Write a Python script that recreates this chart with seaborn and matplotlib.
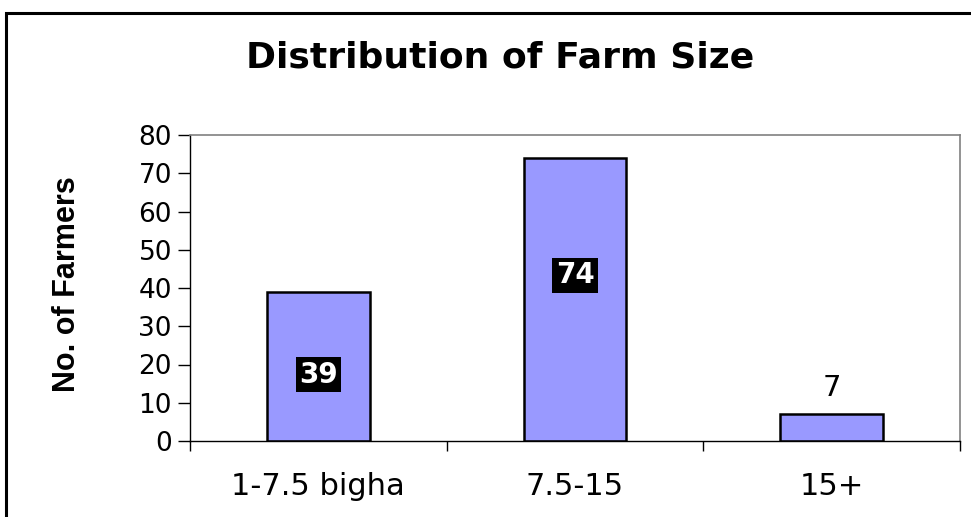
import matplotlib
matplotlib.use("Agg")
import matplotlib.pyplot as plt
import seaborn as sns
import pandas as pd
from matplotlib.patches import Rectangle
from matplotlib.ticker import FixedLocator

categories = ["1-7.5 bigha", "7.5-15", "15+"]
farmers = [39, 74, 7]
label_heights = [17.3, 43.3, 13.9]
label_boxed = [True, True, False]
y_ticks = [0, 10, 20, 30, 40, 50, 60, 70, 80]

sns.set_style("white")
plt.rcParams["font.family"] = ["DejaVu Sans"]
plt.rcParams["text.color"] = "black"
plt.rcParams["xtick.color"] = "black"
plt.rcParams["ytick.color"] = "black"
plt.rcParams["xtick.labelcolor"] = "black"
plt.rcParams["ytick.labelcolor"] = "black"

df = pd.DataFrame({"size": categories, "farmers": farmers})

fig = plt.figure(figsize=(9.71, 5.17), dpi=100)
ax = fig.add_axes([190/971, 1-441/517, (960-190)/971, (441-135)/517])

sns.barplot(data=df, x="size", y="farmers", color="#9999FF", saturation=1,
            edgecolor="black", linewidth=1.8, width=0.4, ax=ax)

ax.set_xlim(-0.5, 2.5)
ax.set_ylim(0, 80)
ax.set_yticks(y_ticks)
ax.set_xlabel("")
ax.set_ylabel("")

for s in ["left", "bottom"]:
    ax.spines[s].set_color("black")
    ax.spines[s].set_linewidth(1.0)
for s in ["top", "right"]:
    ax.spines[s].set_color("#808080")
    ax.spines[s].set_linewidth(1.2)

ax.tick_params(axis="y", which="major", direction="out", length=9, width=1,
               color="black", labelcolor="black", labelsize=19, pad=4, left=True)
ax.tick_params(axis="x", which="major", length=0, labelsize=22,
               labelcolor="black", pad=22)
ax.xaxis.set_minor_locator(FixedLocator([-0.5, 0.5, 1.5, 2.5]))
ax.tick_params(axis="x", which="minor", direction="out", length=7, width=1,
               color="black", bottom=True)

for i, (v, ly, boxed) in enumerate(zip(farmers, label_heights, label_boxed)):
    if boxed:
        ax.text(i, ly, str(v), ha="center", va="center", color="white",
                fontsize=20, fontweight="bold",
                bbox=dict(boxstyle="square,pad=0.12", fc="black", ec="none"))
    else:
        ax.text(i, ly, str(v), ha="center", va="center", color="black",
                fontsize=21)

fig.text(500/971, 1-57/517, "Distribution of Farm Size", ha="center",
         va="center", fontsize=26, fontweight="bold", color="black")
fig.text(67/971, 1-284/517, "No. of Farmers", ha="center", va="center",
         rotation=90, fontsize=22, fontweight="bold", color="black",
         family=["Liberation Sans", "DejaVu Sans"])

fig.add_artist(Rectangle((6/971, -0.1), 1.2, 1.1 - 13/517,
                         transform=fig.transFigure, fill=False,
                         edgecolor="black", linewidth=2.2))

fig.savefig("out.png", dpi=100)
